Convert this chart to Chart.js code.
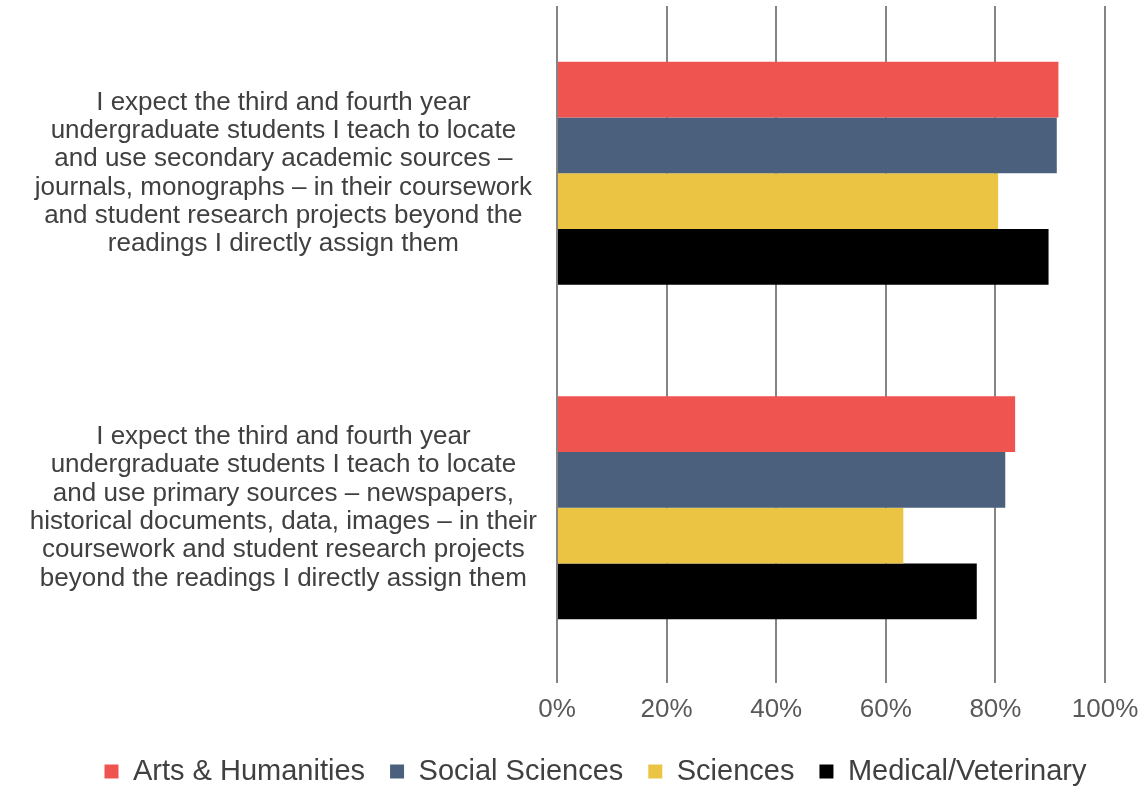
<!DOCTYPE html>
<html>
<head>
<meta charset="utf-8">
<script src="https://cdn.jsdelivr.net/npm/chart.js@4"></script>
<style>
  body { margin: 0; background: #fff; }
  #wrap { width: 1145px; height: 788px; }
</style>
</head>
<body>
<div id="wrap"><canvas id="chart"></canvas></div>
<script>
const statements = [
  ["I expect the third and fourth year", "undergraduate students I teach to locate", "and use secondary academic sources –", "journals, monographs – in their coursework", "and student research projects beyond the", "readings I directly assign them"],
  ["I expect the third and fourth year", "undergraduate students I teach to locate", "and use primary sources – newspapers,", "historical documents, data, images – in their", "coursework and student research projects", "beyond the readings I directly assign them"],
];

const artsHumanities = [91.5, 83.6];
const socialSciences = [91.2, 81.8];
const sciences = [80.5, 63.2];
const medicalVeterinary = [89.7, 76.6];

const xTicks = [0, 20, 40, 60, 80, 100];

const font = "'Liberation Sans', Arial, sans-serif";
Chart.defaults.font.family = font;

const bar = (label, data, color) => ({
  label,
  data,
  backgroundColor: color,
  borderWidth: 0,
  categoryPercentage: 0.667,
  barPercentage: 1.0,
});

const config = {
  type: "bar",
  data: {
    labels: statements,
    datasets: [
      bar("Arts & Humanities", artsHumanities, "#ef5451"),
      bar("Social Sciences", socialSciences, "#4a607c"),
      bar("Sciences", sciences, "#ecc444"),
      bar("Medical/Veterinary", medicalVeterinary, "#000000"),
    ],
  },
  options: {
    indexAxis: "y",
    responsive: true,
    maintainAspectRatio: false,
    animation: false,
    layout: { padding: { top: 6, left: 20, right: -26, bottom: -8 } },
    scales: {
      x: {
        min: 0,
        max: 100,
        afterBuildTicks: (scale) => {
          scale.ticks = xTicks.map((v) => ({ value: v }));
        },
        afterFit: (scale) => {
          scale.height = 57;
          scale.paddingRight = 40;
        },
        ticks: {
          callback: (v) => v + "%",
          color: "#595959",
          font: { size: 26 },
          padding: 11,
        },
        grid: { color: "#858585", lineWidth: 2, tickLength: 8 },
        border: { display: false },
      },
      y: {
        afterFit: (scale) => {
          scale.width = 537;
          scale.paddingTop = 0;
          scale.paddingBottom = 0;
        },
        ticks: {
          color: "#404040",
          font: { size: 26, lineHeight: 1.09 },
          crossAlign: "center",
          padding: 12,
        },
        grid: { display: false },
        border: { display: false },
      },
    },
    plugins: {
      legend: {
        position: "bottom",
        labels: {
          color: "#404040",
          font: { size: 29 },
          boxWidth: 14,
          boxHeight: 14,
          padding: 25,
        },
      },
      tooltip: { enabled: false },
    },
  },
};

new Chart(document.getElementById("chart"), config);
</script>
</body>
</html>
